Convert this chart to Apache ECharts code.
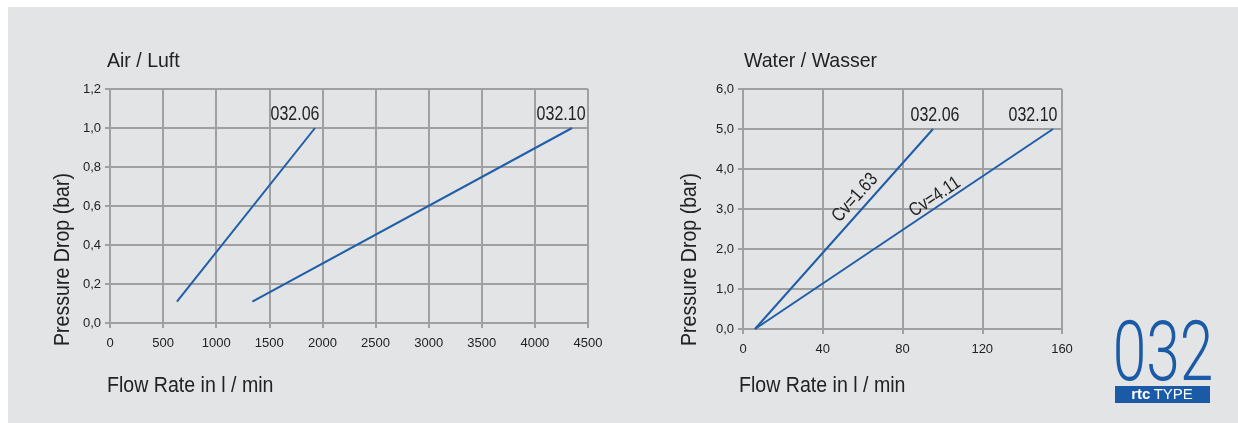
<!DOCTYPE html>
<html>
<head>
<meta charset="utf-8">
<style>
  html, body { margin: 0; padding: 0; background: #ffffff; }
  #chart { width: 1238px; height: 423px; }
</style>
<script src="https://cdn.jsdelivr.net/npm/echarts@6/dist/echarts.min.js"></script>
</head>
<body>
<div id="chart"></div>
<script>
// ---- Data ----
const airSeriesNames = ['032.06', '032.10'];
const air06 = [[630, 0.11], [1930, 1.0]];
const air10 = [[1340, 0.11], [4350, 1.0]];

const waterSeriesNames = ['032.06', '032.10'];
const water06 = [[6, 0], [95.3, 5.0]];
const water10 = [[6, 0], [155.5, 5.0]];
const waterCvLabels = ['Cv=1.63', 'Cv=4.11'];

const titles = ['Air / Luft', 'Water / Wasser'];
const yAxisTitle = 'Pressure Drop (bar)';
const xAxisTitle = 'Flow Rate in l / min';
const logoNumber = '032';

// ---- Styles ----
const BLUE = '#1f5ea8';
const GRID = '#a0a0a0';
const TXT = '#222222';
const SANS = '"Liberation Sans", Arial, sans-serif';

const comma = v => v.toFixed(1).replace('.', ',');
const plain = v => String(v);

function axisCommon() {
  return {
    type: 'value',
    axisLine: { show: true, lineStyle: { color: GRID, width: 2 } },
    axisTick: { show: true, inside: false, length: 5, lineStyle: { color: GRID, width: 2 } },
    splitLine: { show: true, lineStyle: { color: GRID, width: 2 } },
    axisLabel: { color: TXT, fontFamily: SANS, fontSize: 13 }
  };
}

const chart = echarts.init(document.getElementById('chart'), null, { renderer: 'canvas' });

const lineSeries = (name, data, xi) => ({
  name, type: 'line', data, xAxisIndex: xi, yAxisIndex: xi,
  showSymbol: false, symbol: 'none', silent: true,
  lineStyle: { color: BLUE, width: 2 }, animation: false, z: 5
});

const option = {
  animation: false,
  backgroundColor: '#ffffff',
  grid: [
    { left: 110, right: 650, top: 89, bottom: 100 },
    { left: 743, right: 176, top: 89, bottom: 94 }
  ],
  xAxis: [
    Object.assign(axisCommon(), { gridIndex: 0, min: 0, max: 4500, interval: 500,
      axisLabel: { color: TXT, fontFamily: SANS, fontSize: 13, margin: 14, showMaxLabel: true, formatter: plain } }),
    Object.assign(axisCommon(), { gridIndex: 1, min: 0, max: 160, interval: 40,
      axisLabel: { color: TXT, fontFamily: SANS, fontSize: 13, margin: 14, showMaxLabel: true, formatter: plain } })
  ],
  yAxis: [
    Object.assign(axisCommon(), { gridIndex: 0, min: 0, max: 1.2, interval: 0.2,
      axisLabel: { color: TXT, fontFamily: SANS, fontSize: 13, margin: 9, formatter: comma } }),
    Object.assign(axisCommon(), { gridIndex: 1, min: 0, max: 6, interval: 1,
      axisLabel: { color: TXT, fontFamily: SANS, fontSize: 13, margin: 9, formatter: comma } })
  ],
  series: [
    lineSeries(airSeriesNames[0], air06, 0),
    lineSeries(airSeriesNames[1], air10, 0),
    lineSeries(waterSeriesNames[0], water06, 1),
    lineSeries(waterSeriesNames[1], water10, 1)
  ]
};
chart.setOption(option);

// ---- Annotations placed through the chart's own scales ----
const px = (gi, pt) => chart.convertToPixel({ gridIndex: gi }, pt);

function endText(gi, pt, text, dx) {
  const p = px(gi, pt);
  return { type: 'text', x: p[0] + dx, y: p[1] - 4, z: 10, scaleX: 0.8,
    style: { text, fill: TXT, font: '20px ' + SANS, align: 'center', verticalAlign: 'bottom' } };
}

function angleOf(gi, series) {
  const a = px(gi, series[0]), b = px(gi, series[series.length - 1]);
  return Math.atan2(a[1] - b[1], b[0] - a[0]);
}

function cvText(gi, anchor, text, ang) {
  const p = px(gi, anchor);
  return { type: 'text', x: p[0], y: p[1], rotation: ang, scaleX: 0.82, z: 10,
    style: { text, fill: TXT, font: '19px ' + SANS, align: 'center', verticalAlign: 'middle' } };
}

const ang06 = angleOf(1, water06);
const ang10 = angleOf(1, water10);

const graphics = [
  // background panel
  { type: 'rect', shape: { x: 8, y: 7, width: 1230, height: 416 }, style: { fill: '#e3e4e6' }, z: -10, silent: true },
  // titles
  { type: 'text', x: 107, y: 61, scaleX: 0.93, style: { text: titles[0], fill: TXT, font: '21px ' + SANS, align: 'left', verticalAlign: 'middle' } },
  { type: 'text', x: 744, y: 61, scaleX: 0.93, style: { text: titles[1], fill: TXT, font: '21px ' + SANS, align: 'left', verticalAlign: 'middle' } },
  // y axis titles
  { type: 'text', x: 63, y: 346, rotation: Math.PI / 2, scaleX: 0.89, style: { text: yAxisTitle, fill: TXT, font: '22px ' + SANS, align: 'left', verticalAlign: 'middle' } },
  { type: 'text', x: 690, y: 346, rotation: Math.PI / 2, scaleX: 0.89, style: { text: yAxisTitle, fill: TXT, font: '22px ' + SANS, align: 'left', verticalAlign: 'middle' } },
  // x axis titles
  { type: 'text', x: 107, y: 386, scaleX: 0.89, style: { text: xAxisTitle, fill: TXT, font: '22px ' + SANS, align: 'left', verticalAlign: 'middle' } },
  { type: 'text', x: 739, y: 386, scaleX: 0.89, style: { text: xAxisTitle, fill: TXT, font: '22px ' + SANS, align: 'left', verticalAlign: 'middle' } },
  // end labels
  endText(0, air06[air06.length - 1], airSeriesNames[0], -20),
  endText(0, air10[air10.length - 1], airSeriesNames[1], -11),
  endText(1, water06[water06.length - 1], waterSeriesNames[0], 2),
  endText(1, water10[water10.length - 1], waterSeriesNames[1], -20),
  // Cv labels
  cvText(1, [56.2, 3.28], waterCvLabels[0], ang06),
  cvText(1, [96.3, 3.3], waterCvLabels[1], ang10),
  // logo
  { type: 'text', x: 1163, y: 359, scaleX: 0.72, z: 10,
    style: { text: logoNumber, fill: '#1b5aa6', font: '300 84px Roboto, ' + SANS, align: 'center', verticalAlign: 'middle' } },
  { type: 'rect', shape: { x: 1115, y: 386, width: 95, height: 17 }, style: { fill: '#1b5aa6' }, z: 10 },
  { type: 'text', x: 1162, y: 395, z: 11,
    style: { text: '{b|rtc} {r|TYPE}', align: 'center', verticalAlign: 'middle',
      rich: { b: { fill: '#ffffff', font: 'bold 15px ' + SANS }, r: { fill: '#ffffff', font: '15px ' + SANS } } } }
];

chart.setOption({ graphic: graphics });
</script>
</body>
</html>
